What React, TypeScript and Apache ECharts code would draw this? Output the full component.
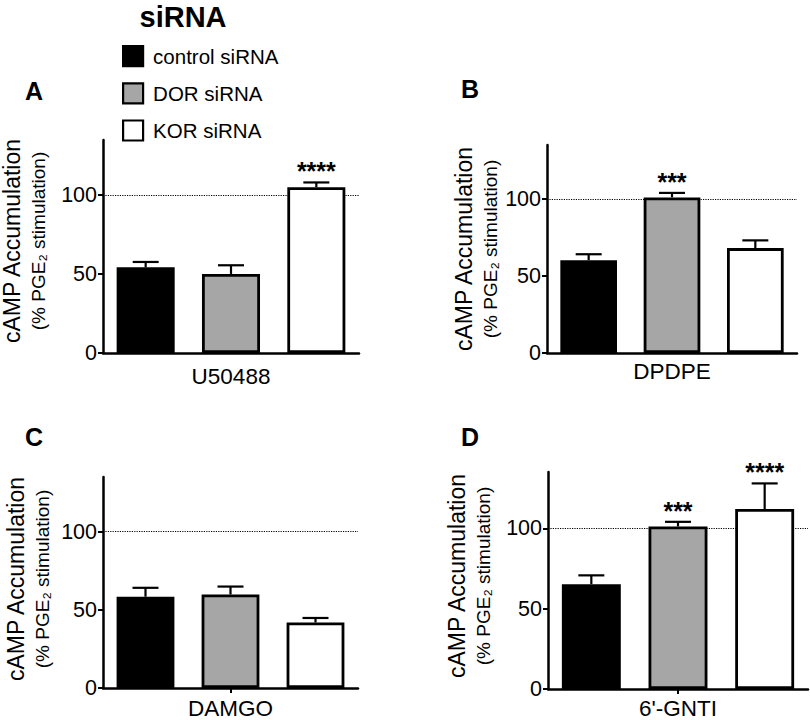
import React, { useEffect, useRef } from 'react';
import * as echarts from 'echarts';

// ---------- data ----------
const groups = ['control siRNA', 'DOR siRNA', 'KOR siRNA'];
const drugs = ['U50488', 'DPDPE', 'DAMGO', "6'-GNTI"];
const panelLetters = ['A', 'B', 'C', 'D'];

const meansU50488 = [54.3, 50.1, 105.1];
const errU50488 = [3.4, 5.5, 3.0];
const sigU50488 = ['', '', '****'];

const meansDPDPE = [60.2, 101.0, 68.1];
const errDPDPE = [3.9, 2.9, 5.0];
const sigDPDPE = ['', '***', ''];

const meansDAMGO = [58.4, 59.8, 41.9];
const errDAMGO = [5.7, 5.1, 2.9];
const sigDAMGO = ['', '', ''];

const meansGNTI = [65.2, 101.1, 112.0];
const errGNTI = [5.5, 2.9, 15.9];
const sigGNTI = ['', '***', '****'];

const yTicks = [0, 50, 100];
const yMin = 0;
const yMax = 135;
const refLine = 100;

const yTitle = 'cAMP Accumulation';
const ySubTitle = '(% PGE₂ stimulation)';
const figTitle = 'siRNA';

// ---------- styling / layout ----------
const FONT = "'Liberation Sans', Arial, Helvetica, sans-serif";
const fills = ['#000000', '#a6a6a6', '#ffffff'];

const panels = [
  { means: meansU50488, err: errU50488, sig: sigU50488, grid: { left: 103, top: 140, width: 256, height: 213 }, centerTick: false, labelMargin: 12,
    letter: [34, 91], titleX: [12, 38], titleY: 241 },
  { means: meansDPDPE, err: errDPDPE, sig: sigDPDPE, grid: { left: 547, top: 145, width: 250, height: 208 }, centerTick: false, labelMargin: 7,
    letter: [470, 89], titleX: [464, 490], titleY: 249 },
  { means: meansDAMGO, err: errDAMGO, sig: sigDAMGO, grid: { left: 103, top: 477, width: 255, height: 212 }, centerTick: true, labelMargin: 9,
    letter: [34, 437], titleX: [16, 42], titleY: 579 },
  { means: meansGNTI, err: errGNTI, sig: sigGNTI, grid: { left: 548, top: 472, width: 260, height: 217 }, centerTick: true, labelMargin: 8,
    letter: [470, 437], titleX: [457, 483], titleY: 576 },
];

function buildOption() {
  const grid = panels.map((p) => ({ ...p.grid, containLabel: false }));

  const xAxis = panels.map((p, i) => ({
    type: 'category',
    gridIndex: i,
    data: groups,
    axisLine: { show: true, lineStyle: { color: '#000', width: 2.5 } },
    axisTick: {
      show: p.centerTick,
      alignWithLabel: true,
      interval: (idx: number) => idx === 1,
      length: 5,
      lineStyle: { color: '#000', width: 2 },
    },
    axisLabel: {
      interval: 0,
      formatter: (_v: string, idx: number) => (idx === 1 ? drugs[i] : ''),
      fontSize: 22.5,
      color: '#000',
      fontFamily: FONT,
      margin: p.labelMargin,
    },
    splitLine: { show: false },
  }));

  const yAxis = panels.map((_p, i) => ({
    type: 'value',
    gridIndex: i,
    min: yMin,
    max: yMax,
    axisLine: { show: true, lineStyle: { color: '#000', width: 2.5 } },
    axisTick: { show: true, customValues: yTicks, length: 5, lineStyle: { color: '#000', width: 2 } },
    axisLabel: { customValues: yTicks, fontSize: 21.5, color: '#000', fontFamily: FONT, margin: 6 },
    splitLine: { show: false },
  }));

  const series: any[] = [];
  panels.forEach((p, i) => {
    groups.forEach((g, gi) => {
      series.push({
        type: 'bar',
        name: g,
        xAxisIndex: i,
        yAxisIndex: i,
        data: groups.map((_x, k) => (k === gi ? p.means[k] : '-')),
        barGap: '-100%',
        barCategoryGap: '32%',
        itemStyle: { color: fills[gi], borderColor: '#000', borderWidth: 2.8 },
        z: 3,
        silent: true,
        markLine:
          gi === 0
            ? {
                silent: true,
                symbol: 'none',
                z: 1,
                label: { show: false },
                lineStyle: { type: 'dotted', color: '#000', width: 1.2 },
                data: [{ yAxis: refLine }],
              }
            : undefined,
      });
    });
    series.push({
      type: 'custom',
      xAxisIndex: i,
      yAxisIndex: i,
      silent: true,
      z: 4,
      data: p.means.map((m, k) => [k, m, p.err[k]]),
      renderItem: (params: any, api: any) => {
        const k = api.value(0);
        const m = api.value(1);
        const e = api.value(2);
        const p0 = api.coord([k, m]);
        const p1 = api.coord([k, m + e]);
        const cap = 13;
        const style = { stroke: '#000', lineWidth: 2.2 };
        const children: any[] = [
          { type: 'line', shape: { x1: p0[0], y1: p0[1], x2: p1[0], y2: p1[1] }, style },
          { type: 'line', shape: { x1: p1[0] - cap, y1: p1[1], x2: p1[0] + cap, y2: p1[1] }, style },
        ];
        const s = p.sig[params.dataIndex];
        if (s) {
          children.push({
            type: 'text',
            x: p1[0],
            y: p1[1] - 11,
            style: { text: s, fontSize: 25, fontWeight: 'bold', fontFamily: FONT, fill: '#000', align: 'center', verticalAlign: 'middle' },
          });
        }
        return { type: 'group', children };
      },
    });
  });

  const graphic: any[] = [];
  panels.forEach((p, i) => {
    graphic.push({
      type: 'text',
      x: p.letter[0],
      y: p.letter[1],
      style: { text: panelLetters[i], fontSize: 25, fontWeight: 'bold', fontFamily: FONT, fill: '#000', align: 'center', verticalAlign: 'middle' },
    });
    graphic.push({
      type: 'text',
      x: p.titleX[0],
      y: p.titleY,
      rotation: Math.PI / 2,
      style: { text: yTitle, fontSize: 23, fontFamily: FONT, fill: '#000', align: 'center', verticalAlign: 'middle' },
    });
    graphic.push({
      type: 'text',
      x: p.titleX[1],
      y: p.titleY,
      rotation: Math.PI / 2,
      style: { text: ySubTitle, fontSize: 19, fontFamily: FONT, fill: '#000', align: 'center', verticalAlign: 'middle' },
    });
  });
  graphic.push({
    type: 'text',
    x: 183,
    y: 2,
    style: { text: figTitle, fontSize: 29, fontWeight: 'bold', fontFamily: FONT, fill: '#000', align: 'center', verticalAlign: 'top' },
  });

  return {
    animation: false,
    backgroundColor: '#ffffff',
    textStyle: { fontFamily: FONT },
    grid,
    xAxis,
    yAxis,
    series,
    graphic,
    legend: {
      data: groups,
      orient: 'vertical',
      left: 122,
      top: 45,
      padding: 0,
      itemWidth: 20,
      itemHeight: 20,
      itemGap: 15,
      icon: 'rect',
      selectedMode: false,
      itemStyle: { borderColor: '#000', borderWidth: 2.2 },
      textStyle: { fontSize: 20.5, color: '#000', fontFamily: FONT, lineHeight: 20, padding: [0, 0, 0, 5] },
    },
  };
}

export default function App() {
  const ref = useRef<HTMLDivElement>(null);
  useEffect(() => {
    if (!ref.current) return;
    const chart = echarts.init(ref.current, null, { renderer: 'svg' });
    chart.setOption(buildOption() as any);
    return () => chart.dispose();
  }, []);
  return <div ref={ref} style={{ position: 'absolute', left: 0, top: 0, width: 810, height: 720 }} />;
}
